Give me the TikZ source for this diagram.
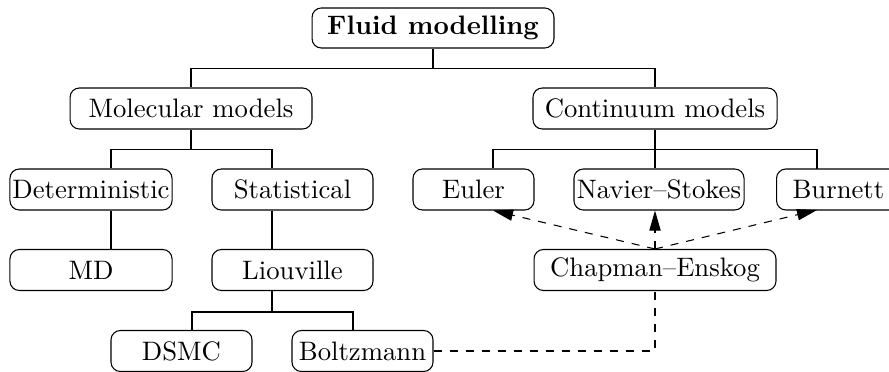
\documentclass[tikz,border=0pt]{standalone}
\usetikzlibrary{arrows.meta,calc}
\begin{document}
\begin{tikzpicture}[x=0.3745pt,y=-0.3745pt,
  box/.style={draw,rounded corners=3.5pt,minimum height=15.35pt,inner xsep=0.8pt,inner ysep=0pt},
  dashedarrow/.style={dashed,-{Triangle[length=7.5pt,width=4.2pt]}}]
\useasboundingbox (0,0) rectangle (889,372);
\clip (0,0) rectangle (889,372);
% nodes
\node[box,minimum width=90.6pt,minimum height=15pt] (fluid) at (433,28) {\textbf{Fluid modelling}};
\node[box,minimum width=90.6pt] (mol) at (191,108.5) {Molecular models};
\node[box,minimum width=91.4pt] (cont) at (655,108.5) {Continuum models};
\node[box,minimum width=60.7pt] (det) at (91,189.5) {Deterministic};
\node[box,minimum width=60.3pt] (stat) at (292.5,189.5) {Statistical};
\node[box,minimum width=45.3pt] (euler) at (473.5,189.5) {Euler};
\node[box,minimum width=63.7pt] (ns) at (659,189.5) {Navier--Stokes};
\node[box,anchor=west,text width=60pt,align=left,inner xsep=0pt] (burn) at (776,189.5) {\hspace*{6pt}Burnett};
\node[box,minimum width=60.7pt] (md) at (91,270) {MD};
\node[box,minimum width=60.3pt] (liou) at (292.5,270) {Liouville};
\node[box,minimum width=90.6pt] (chap) at (655,270) {Chapman--Enskog};
\node[box,minimum width=52.8pt] (dsmc) at (181.5,351) {DSMC};
\node[box,minimum width=52.8pt] (boltz) at (362.5,351) {Boltzmann};
\coordinate (burnT) at (817,169);
\coordinate (burnB) at (817,210);
% tree connectors
\draw (fluid.south) -- ++(0,20) -| (mol.north);
\draw (fluid.south) -- ++(0,20) -| (cont.north);
\draw (mol.south) -- ++(0,20) -| ($(det.north)+(20,0)$);
\draw (mol.south) -- ++(0,20) -| ($(stat.north)+(-20.5,0)$);
\draw (cont.south) -- ++(0,20) -| ($(euler.north)+(19.5,0)$);
\draw (cont.south) -- ++(0,20) -| ($(ns.north)+(-4,0)$);
\draw (cont.south) -- ++(0,20) -| (burnT);
\draw ($(det.south)+(20,0)$) -- ($(md.north)+(20,0)$);
\draw ($(stat.south)+(-20.5,0)$) -- ($(liou.north)+(-20.5,0)$);
\draw ($(liou.south)+(-20.5,0)$) -- ++(0,21) -| ($(dsmc.north)+(10.5,0)$);
\draw ($(liou.south)+(-20.5,0)$) -- ++(0,21) -| ($(boltz.north)+(-9.5,0)$);
% dashed connectors
\draw[dashedarrow] (chap.north) -- ($(euler.south)+(19.5,0)$);
\draw[dashedarrow] (chap.north) -- ($(ns.south)+(-4,0)$);
\draw[dashedarrow] (chap.north) -- (burnB);
\draw[dashed] (boltz.east) -| (chap.south);
\end{tikzpicture}
\end{document}
